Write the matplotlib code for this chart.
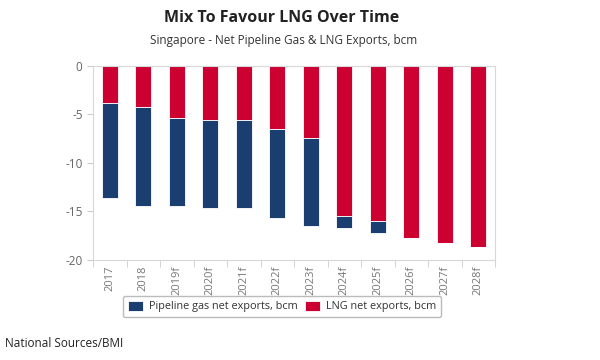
import matplotlib.pyplot as plt
import numpy as np

plt.rcParams['font.family'] = ['Open Sans', 'DejaVu Sans']

# 数据
years = ['2017', '2018', '2019f', '2020f', '2021f', '2022f', '2023f',
         '2024f', '2025f', '2026f', '2027f', '2028f']
lng = [-3.8, -4.2, -5.4, -5.6, -5.6, -6.5, -7.4, -15.5, -16.0, -17.7, -18.3, -18.7]
pipeline = [-9.8, -10.2, -9.0, -9.1, -9.1, -9.2, -9.1, -1.2, -1.2, 0, 0, 0]

blue = '#1b3e70'
red = '#cc0031'
grey = '#666666'

fig = plt.figure(figsize=(6, 3.6), dpi=100)
ax = fig.add_axes([0.155, 0.278, 0.67, 0.539])

x = np.arange(len(years))
ax.bar(x, lng, width=0.47, color=red, edgecolor='white', linewidth=0.6,
       label='LNG net exports, bcm')
ax.bar(x, pipeline, width=0.47, bottom=lng, color=blue, edgecolor='white',
       linewidth=0.6, label='Pipeline gas net exports, bcm')

ax.set_ylim(-20, 0)
ax.set_xlim(-0.5, len(years) - 0.5)
ax.set_yticks([0, -5, -10, -15, -20])
ax.set_yticklabels(['0', '-5', '-10', '-15', '-20'])
ax.set_xticks(x)
ax.set_xticklabels(years, rotation=90)
ax.set_xticks(np.arange(-0.5, len(years)), minor=True)
ax.tick_params(axis='x', which='major', length=0, colors='#777777', labelsize=8, pad=4)
ax.tick_params(axis='x', which='minor', length=5, color='#cccccc')
ax.tick_params(axis='y', length=4, color='#cccccc', colors=grey, labelsize=8.5)
for s in ax.spines.values():
    s.set_color('#d8d8d8')
    s.set_linewidth(0.8)

# 标题
fig.text(0.47, 0.95, 'Mix To Favour LNG Over Time', ha='center', va='center',
         fontsize=11.5, fontweight='bold', color='#222222')
fig.text(0.472, 0.888, 'Singapore - Net Pipeline Gas & LNG Exports, bcm',
         ha='center', va='center', fontsize=8.5, color='#333333')

# 图例
handles, labels = ax.get_legend_handles_labels()
leg = fig.legend(handles[::-1], labels[::-1], loc='center', ncol=2,
                 bbox_to_anchor=(0.47, 0.148), fontsize=7.8, frameon=True,
                 fancybox=True, edgecolor='#aaaaaa', handlelength=1.4,
                 handleheight=1.0, columnspacing=0.7, handletextpad=0.5,
                 borderpad=0.45)
for t in leg.get_texts():
    t.set_color('#333333')

fig.text(0.008, 0.047, 'National Sources/BMI', ha='left', va='center',
         fontsize=8.5, color='#222222')

fig.savefig('out.png', dpi=100)
